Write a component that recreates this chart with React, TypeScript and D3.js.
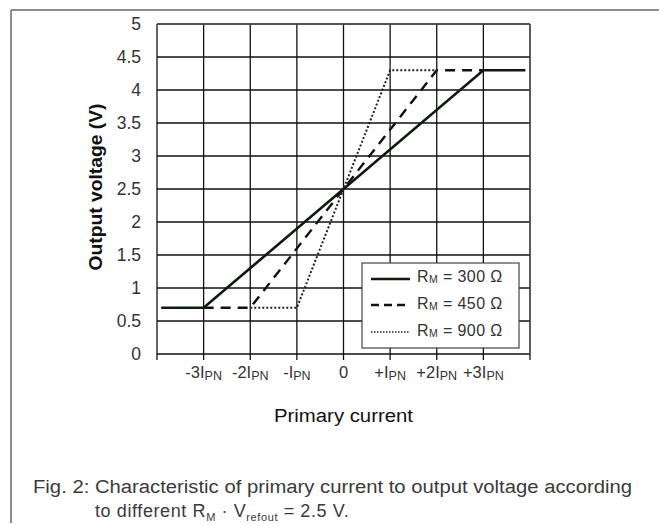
import React from "react";
import * as d3 from "d3";

const xTicks = [-4, -3, -2, -1, 0, 1, 2, 3, 4];
const xTickLabels: { [k: string]: [string, string] } = {
  "-3": ["-3I", "PN"],
  "-2": ["-2I", "PN"],
  "-1": ["-I", "PN"],
  "0": ["0", ""],
  "1": ["+I", "PN"],
  "2": ["+2I", "PN"],
  "3": ["+3I", "PN"],
};
const yTicks = [0, 0.5, 1, 1.5, 2, 2.5, 3, 3.5, 4, 4.5, 5];
const yTickLabels = ["0", "0.5", "1", "1.5", "2", "2.5", "3", "3.5", "4", "4.5", "5"];

const seriesNames = ["300", "450", "900"];
const rm300X = [-3.91, -3, 3, 3.9];
const rm300Y = [0.7, 0.7, 4.3, 4.3];
const rm450X = [-3, -2, 2, 3];
const rm450Y = [0.7, 0.7, 4.3, 4.3];
const rm900X = [-2, -1, 1, 2];
const rm900Y = [0.7, 0.7, 4.3, 4.3];

const W = 659;
const H = 526;
const left = 157, right = 530, top = 24, bottom = 354;

export default function App() {
  const x = d3.scaleLinear().domain([-4, 4]).range([left, right]);
  const y = d3.scaleLinear().domain([0, 5]).range([bottom, top]);
  const line = d3
    .line<[number, number]>()
    .x((d) => x(d[0]))
    .y((d) => y(d[1]));
  const mk = (xs: number[], ys: number[]) => xs.map((v, i) => [v, ys[i]] as [number, number]);
  const styles = [
    { stroke: "#0b1c0b", width: 2.6, dash: "none" },
    { stroke: "#111", width: 2.4, dash: "10,7" },
    { stroke: "#222", width: 2, dash: "2,2" },
  ];
  const series = [mk(rm300X, rm300Y), mk(rm450X, rm450Y), mk(rm900X, rm900Y)];
  const font = "'Liberation Sans', Arial, sans-serif";

  return (
    <svg
      width={W}
      height={H}
      style={{ position: "absolute", left: 0, top: 0, background: "#fff" }}
      fontFamily={font}
    >
      {/* outer frame */}
      <line x1={11} y1={10} x2={W} y2={10} stroke="#8c8c8c" strokeWidth={2} />
      <line x1={11} y1={10} x2={11} y2={523} stroke="#8c8c8c" strokeWidth={2} />

      {/* grid */}
      {xTicks.map((t) => (
        <line key={"gx" + t} x1={x(t)} x2={x(t)} y1={top} y2={bottom} stroke="#111" strokeWidth={1.3} />
      ))}
      {yTicks.map((t) => (
        <line key={"gy" + t} x1={left} x2={right} y1={y(t)} y2={y(t)} stroke="#111" strokeWidth={1.3} />
      ))}
      <line x1={right} x2={right} y1={top} y2={bottom} stroke="#555" strokeWidth={1.3} />
      <line x1={left} x2={right} y1={top} y2={top} stroke="#555" strokeWidth={1.3} />
      {/* x axis ticks */}
      {xTicks.map((t) => (
        <line key={"tx" + t} x1={x(t)} x2={x(t)} y1={bottom} y2={bottom + 6} stroke="#111" strokeWidth={1.3} />
      ))}

      {/* y tick labels */}
      {yTicks.map((t, i) => (
        <text key={"yl" + t} x={141} y={y(t)} dy="0.36em" textAnchor="end" fontSize={17.5} fill="#333">
          {yTickLabels[i]}
        </text>
      ))}
      {/* x tick labels */}
      {xTicks
        .filter((t) => xTickLabels[String(t)])
        .map((t) => {
          const [main, sub] = xTickLabels[String(t)];
          return (
            <text key={"xl" + t} x={x(t)} y={378} textAnchor="middle" fontSize={16.5} fill="#333">
              {main}
              {sub && (
                <tspan fontSize={12.5} dy={2}>
                  {sub}
                </tspan>
              )}
            </text>
          );
        })}

      {/* series */}
      {series.map((s, i) => (
        <path
          key={"s" + i}
          d={line(s) || ""}
          fill="none"
          stroke={styles[i].stroke}
          strokeWidth={styles[i].width}
          strokeDasharray={styles[i].dash}
        />
      ))}

      {/* legend */}
      <rect x={362} y={263} width={157} height={85} fill="#fff" stroke="#444" strokeWidth={1.2} />
      {seriesNames.map((n, i) => {
        const ly = [279, 305, 332][i];
        return (
          <g key={"lg" + n}>
            <line
              x1={371}
              x2={410}
              y1={ly}
              y2={ly}
              stroke={styles[i].stroke}
              strokeWidth={i === 2 ? 1.5 : 2.4}
              strokeDasharray={i === 1 ? "8,5" : i === 2 ? "1.5,1.5" : "none"}
            />
            <text x={417} y={[282, 309, 336][i]} fontSize={16} fill="#333" letterSpacing={0.4}>
              R
              <tspan fontSize={10.5} dy={1}>
                M
              </tspan>
              <tspan dy={-1}>{` = ${n} Ω`}</tspan>
            </text>
          </g>
        );
      })}

      {/* axis titles */}
      <text
        transform={`translate(102,${(top + bottom) / 2 - 2}) rotate(-90)`}
        textAnchor="middle"
        fontSize={17.5}
        fontWeight="bold"
        fill="#111"
        textLength={167}
        lengthAdjust="spacingAndGlyphs"
      >
        Output voltage (V)
      </text>
      <text x={(left + right) / 2} y={422} textAnchor="middle" fontSize={18} fill="#111" textLength={139} lengthAdjust="spacingAndGlyphs">
        Primary current
      </text>

      {/* caption */}
      <text x={33} y={493} fontSize={18} fill="#3a3a3a" textLength={599} lengthAdjust="spacingAndGlyphs">
        Fig. 2: Characteristic of primary current to output voltage according
      </text>
      <text x={95} y={517} fontSize={18} fill="#3a3a3a" letterSpacing={0.6}>
        to different R
        <tspan fontSize={11} dy={4}>M</tspan>
        <tspan dy={-4}> · V</tspan>
        <tspan fontSize={11} dy={4}>refout</tspan>
        <tspan dy={-4}> = 2.5 V.</tspan>
      </text>
    </svg>
  );
}
